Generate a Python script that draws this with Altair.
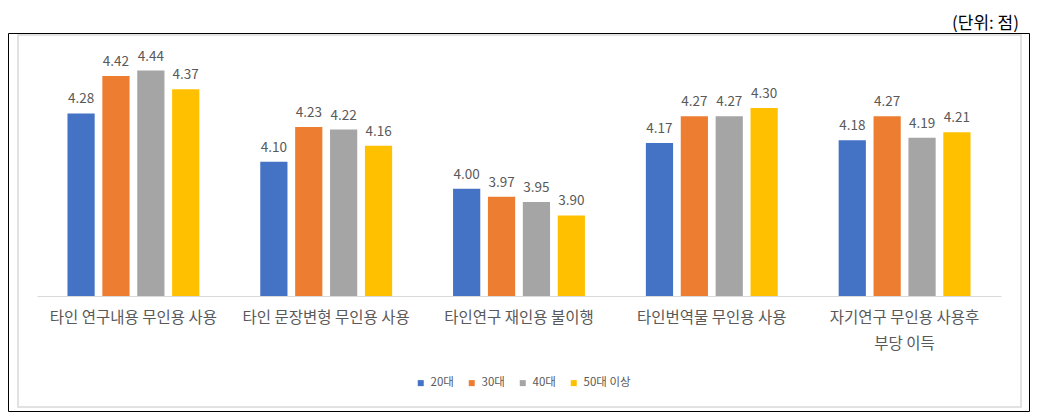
import altair as alt
import pandas as pd

categories = ["타인 연구내용 무인용 사용", "타인 문장변형 무인용 사용", "타인연구 재인용 불이행",
              "타인번역물 무인용 사용", "자기연구 무인용 사용후\n부당 이득"]
groups = ["20대", "30대", "40대", "50대 이상"]
colors = ["#4472C4", "#ED7D31", "#A5A5A5", "#FFC000"]
v20 = [4.28, 4.10, 4.00, 4.17, 4.18]
v30 = [4.42, 4.23, 3.97, 4.27, 4.27]
v40 = [4.44, 4.22, 3.95, 4.27, 4.19]
v50 = [4.37, 4.16, 3.90, 4.30, 4.21]
unit_text = "(단위: 점)"

rows = []
for g, vals in zip(groups, [v20, v30, v40, v50]):
    for c, v in zip(categories, vals):
        rows.append({"category": c, "group": g, "value": v})
df = pd.DataFrame(rows)

FONT = "Noto Sans CJK KR"
W, H = 964, 255

xenc = alt.X("category:N", sort=categories,
             scale=alt.Scale(paddingInner=0.316, paddingOuter=0.158),
             axis=alt.Axis(title=None, labelAngle=0, ticks=False, domainColor="#d9d9d9",
                           labelFontSize=15.5, labelColor="#595959", labelFont=FONT,
                           labelPadding=14, labelLineHeight=26, labelLimit=300, zindex=1,
                           labelExpr="split(datum.label, '\\n')"))
xoff = alt.XOffset("group:N", sort=groups, scale=alt.Scale(paddingInner=0.22, paddingOuter=0))
yenc = alt.Y("value:Q", scale=alt.Scale(domain=[3.6, 4.55], zero=False, nice=False), axis=None)

one = alt.Data(values=[{}])
outer = alt.Chart(one).mark_rect(fill="white", stroke="black", strokeWidth=1).encode(
    x=alt.value(-28.5), x2=alt.value(992.5), y=alt.value(-7.5), y2=alt.value(370.5))
inner = alt.Chart(one).mark_rect(fill="white", stroke="#d9d9d9", strokeWidth=1.5).encode(
    x=alt.value(-19), x2=alt.value(984), y=alt.value(-6), y2=alt.value(366))
title = alt.Chart(one).mark_text(align="right", baseline="middle", fontSize=17, font=FONT,
                                 fontWeight="normal", color="black").encode(
    x=alt.value(982), y=alt.value(-17), text=alt.datum(unit_text))

bars = alt.Chart(df).mark_bar().encode(
    x=xenc, xOffset=xoff, y=yenc, y2=alt.datum(3.6),
    color=alt.Color("group:N", sort=groups, scale=alt.Scale(domain=groups, range=colors),
                    legend=alt.Legend(title=None, orient="none", legendX=378, legendY=336,
                                      direction="horizontal", symbolType="square",
                                      symbolSize=36, symbolStrokeWidth=0,
                                      labelFontSize=11.5, labelColor="#595959", labelFont=FONT,
                                      columnPadding=12, labelOffset=4, zindex=1)))
labels = alt.Chart(df).mark_text(baseline="alphabetic", dy=-10, fontSize=13.5, font=FONT,
                                 color="#595959").encode(
    x=xenc, xOffset=xoff, y=yenc, text=alt.Text("value:Q", format=".2f"))

chart = alt.layer(outer, inner, title, bars, labels).properties(
    width=W, height=H,
    autosize=alt.AutoSizeParams(type="none"),
    padding={"left": 29, "top": 33, "right": 29, "bottom": 116},
).configure_view(stroke=None)

chart.save("out.html", embed_options={"renderer": "svg", "actions": False})
